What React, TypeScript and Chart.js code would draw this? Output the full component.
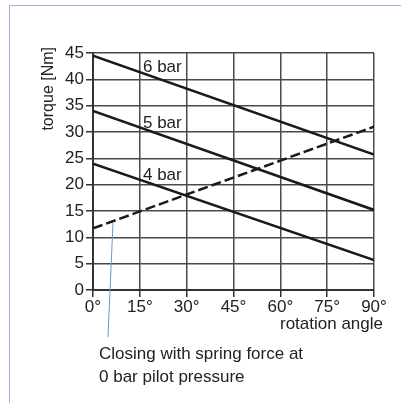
import React, { useEffect, useRef } from "react";
import { Chart, registerables } from "chart.js";

Chart.register(...registerables);

const angles = [0, 90];
const bar6 = [44.5, 25.7];
const bar5 = [34.0, 15.2];
const bar4 = [24.0, 5.7];
const spring = [11.7, 31.0];
const seriesLabels = ["6 bar", "5 bar", "4 bar"];
const xTicks = [0, 15, 30, 45, 60, 75, 90];
const yTitle = "torque [Nm]";
const xTitle = "rotation angle";
const noteLines = ["Closing with spring force at", "0 bar pilot pressure"];

const FONT = "'Liberation Sans', Arial, Helvetica, sans-serif";

function pts(vals: number[]) {
  return angles.map((a, i) => ({ x: a, y: vals[i] }));
}

export default function App() {
  const ref = useRef<HTMLCanvasElement | null>(null);

  useEffect(() => {
    if (!ref.current) return;
    const labelAngle = 16;
    const labelPlugin = {
      id: "extras",
      afterDraw(chart: any) {
        const ctx = chart.ctx;
        const xs = chart.scales.x;
        const ys = chart.scales.y;
        const ca = chart.chartArea;
        ctx.save();
        ctx.fillStyle = "#222";
        ctx.font = `17px ${FONT}`;
        // series labels
        const series = [bar6, bar5, bar4];
        series.forEach((s, i) => {
          const v = s[0] + ((s[1] - s[0]) * labelAngle) / 90;
          ctx.textAlign = "left";
          ctx.textBaseline = "alphabetic";
          ctx.fillText(seriesLabels[i], xs.getPixelForValue(labelAngle), ys.getPixelForValue(v) - 1);
        });
        // y title
        ctx.save();
        ctx.font = `16px ${FONT}`;
        ctx.translate(ca.left - 44, ca.top - 6);
        ctx.rotate(-Math.PI / 2);
        ctx.textAlign = "right";
        ctx.textBaseline = "middle";
        ctx.fillText(yTitle, 0, 0);
        ctx.restore();
        // x title
        ctx.textAlign = "right";
        ctx.textBaseline = "middle";
        ctx.fillText(xTitle, ca.right + 9, ca.bottom + 34);
        // annotation leader
        const a0 = 6.4;
        const sv = spring[0] + ((spring[1] - spring[0]) * a0) / 90;
        ctx.strokeStyle = "#6f96cf";
        ctx.lineWidth = 1;
        ctx.beginPath();
        ctx.moveTo(xs.getPixelForValue(a0), ys.getPixelForValue(sv) + 2);
        ctx.lineTo(xs.getPixelForValue(4.8), ca.bottom + 47);
        ctx.stroke();
        // note text
        ctx.textAlign = "left";
        ctx.textBaseline = "alphabetic";
        ctx.fillText(noteLines[0], ca.left + 6, ca.bottom + 69);
        ctx.fillText(noteLines[1], ca.left + 6, ca.bottom + 92);
        ctx.restore();
      },
    };

    const chart = new Chart(ref.current, {
      type: "line",
      data: {
        datasets: [
          { data: pts(bar6), borderColor: "#1a1a1a", borderWidth: 2.5, pointRadius: 0 },
          { data: pts(bar5), borderColor: "#1a1a1a", borderWidth: 2.5, pointRadius: 0 },
          { data: pts(bar4), borderColor: "#1a1a1a", borderWidth: 2.5, pointRadius: 0 },
          {
            data: pts(spring),
            borderColor: "#1a1a1a",
            borderWidth: 2.5,
            borderDash: [10, 4],
            pointRadius: 0,
          },
        ],
      },
      options: {
        animation: false,
        responsive: true,
        maintainAspectRatio: false,
        layout: { padding: { left: 0, right: 27, top: 53, bottom: 53 } },
        plugins: { legend: { display: false }, tooltip: { enabled: false } },
        scales: {
          x: {
            type: "linear",
            min: 0,
            max: 90,
            afterFit: (s: any) => {
              s.height = 60;
            },
            afterBuildTicks: (s: any) => {
              s.ticks = xTicks.map((v) => ({ value: v }));
            },
            ticks: {
              callback: (v: any) => `${v}°`,
              color: "#222",
              font: { family: FONT, size: 17 },
              padding: 0,
              maxRotation: 0,
              autoSkip: false,
            },
            grid: { color: "#4a4a4a", lineWidth: 1.5, tickLength: 7, tickColor: "#333" },
            border: { color: "#333", width: 2 },
          },
          y: {
            type: "linear",
            min: 0,
            max: 45,
            afterFit: (s: any) => {
              s.width = 93;
            },
            ticks: {
              stepSize: 5,
              color: "#222",
              font: { family: FONT, size: 17 },
              padding: 2,
            },
            grid: { color: "#4a4a4a", lineWidth: 1.5, tickLength: 7, tickColor: "#333" },
            border: { color: "#333", width: 2 },
          },
        },
      },
      plugins: [labelPlugin],
    } as any);
    return () => chart.destroy();
  }, []);

  return (
    <div style={{ position: "fixed", left: 0, top: 0, width: 401, height: 403, background: "#fff" }}>
      <div
        style={{
          position: "absolute",
          left: 9,
          top: 5,
          right: 0,
          bottom: 0,
          borderTop: "1.5px solid #9bb5df",
          borderLeft: "1.5px solid #9bb5df",
        }}
      />
      <div style={{ position: "absolute", left: 0, top: 0, width: 401, height: 403 }}>
        <canvas ref={ref} />
      </div>
    </div>
  );
}
